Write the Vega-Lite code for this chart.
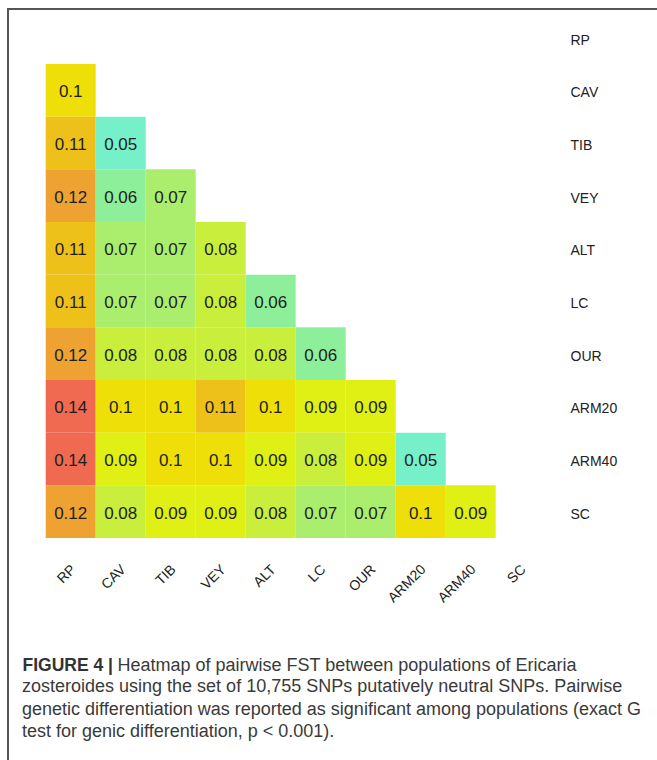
{
  "$schema": "https://vega.github.io/schema/vega-lite/v6.json",
  "description": "Heatmap of pairwise FST between populations of Ericaria zosteroides.",
  "autosize": "none",
  "padding": {"left": 8, "top": 9, "right": -2, "bottom": -2},
  "width": 651,
  "height": 753,
  "background": "white",
  "title": {
    "text": [
      "zosteroides using the set of 10,755 SNPs putatively neutral SNPs. Pairwise",
      "genetic differentiation was reported as significant among populations (exact G",
      "test for genic differentiation, p < 0.001)."
    ],
    "orient": "bottom",
    "anchor": "start",
    "frame": "group",
    "offset": 0,
    "dx": 14,
    "dy": -70,
    "baseline": "alphabetic",
    "font": "Liberation Sans",
    "fontSize": 18,
    "fontWeight": "normal",
    "color": "#3a3a3a",
    "lineHeight": 22.7
  },
  "data": {
    "values": [
      {"row": "CAV", "col": "RP", "fst": 0.1},
      {"row": "TIB", "col": "RP", "fst": 0.11},
      {"row": "TIB", "col": "CAV", "fst": 0.05},
      {"row": "VEY", "col": "RP", "fst": 0.12},
      {"row": "VEY", "col": "CAV", "fst": 0.06},
      {"row": "VEY", "col": "TIB", "fst": 0.07},
      {"row": "ALT", "col": "RP", "fst": 0.11},
      {"row": "ALT", "col": "CAV", "fst": 0.07},
      {"row": "ALT", "col": "TIB", "fst": 0.07},
      {"row": "ALT", "col": "VEY", "fst": 0.08},
      {"row": "LC", "col": "RP", "fst": 0.11},
      {"row": "LC", "col": "CAV", "fst": 0.07},
      {"row": "LC", "col": "TIB", "fst": 0.07},
      {"row": "LC", "col": "VEY", "fst": 0.08},
      {"row": "LC", "col": "ALT", "fst": 0.06},
      {"row": "OUR", "col": "RP", "fst": 0.12},
      {"row": "OUR", "col": "CAV", "fst": 0.08},
      {"row": "OUR", "col": "TIB", "fst": 0.08},
      {"row": "OUR", "col": "VEY", "fst": 0.08},
      {"row": "OUR", "col": "ALT", "fst": 0.08},
      {"row": "OUR", "col": "LC", "fst": 0.06},
      {"row": "ARM20", "col": "RP", "fst": 0.14},
      {"row": "ARM20", "col": "CAV", "fst": 0.1},
      {"row": "ARM20", "col": "TIB", "fst": 0.1},
      {"row": "ARM20", "col": "VEY", "fst": 0.11},
      {"row": "ARM20", "col": "ALT", "fst": 0.1},
      {"row": "ARM20", "col": "LC", "fst": 0.09},
      {"row": "ARM20", "col": "OUR", "fst": 0.09},
      {"row": "ARM40", "col": "RP", "fst": 0.14},
      {"row": "ARM40", "col": "CAV", "fst": 0.09},
      {"row": "ARM40", "col": "TIB", "fst": 0.1},
      {"row": "ARM40", "col": "VEY", "fst": 0.1},
      {"row": "ARM40", "col": "ALT", "fst": 0.09},
      {"row": "ARM40", "col": "LC", "fst": 0.08},
      {"row": "ARM40", "col": "OUR", "fst": 0.09},
      {"row": "ARM40", "col": "ARM20", "fst": 0.05},
      {"row": "SC", "col": "RP", "fst": 0.12},
      {"row": "SC", "col": "CAV", "fst": 0.08},
      {"row": "SC", "col": "TIB", "fst": 0.09},
      {"row": "SC", "col": "VEY", "fst": 0.09},
      {"row": "SC", "col": "ALT", "fst": 0.08},
      {"row": "SC", "col": "LC", "fst": 0.07},
      {"row": "SC", "col": "OUR", "fst": 0.07},
      {"row": "SC", "col": "ARM20", "fst": 0.1},
      {"row": "SC", "col": "ARM40", "fst": 0.09}
    ]
  },
  "encoding": {
    "x": {
      "field": "col",
      "type": "nominal",
      "sort": ["RP", "CAV", "TIB", "VEY", "ALT", "LC", "OUR", "ARM20", "ARM40", "SC"],
      "scale": {
        "domain": ["RP", "CAV", "TIB", "VEY", "ALT", "LC", "OUR", "ARM20", "ARM40", "SC"],
        "range": [37.7, 537.7],
        "paddingInner": 0
      },
      "axis": {
        "orient": "bottom",
        "offset": -195,
        "domain": false,
        "ticks": false,
        "tickSize": 0,
        "grid": false,
        "labelAngle": -45,
        "labelAlign": "right",
        "labelBaseline": "middle",
        "labelPadding": 0,
        "labelOffset": 3,
        "labelFont": "Liberation Sans",
        "labelFontSize": 14,
        "labelColor": "#222222",
        "title": "FIGURE 4 |",
        "titleX": 14,
        "titleY": 103,
        "titleAngle": 0,
        "titleAlign": "left",
        "titleBaseline": "alphabetic",
        "titleFont": "Liberation Sans",
        "titleFontSize": 17.5,
        "titleFontWeight": "bold",
        "titleColor": "#333333"
      }
    },
    "y": {
      "field": "row",
      "type": "nominal",
      "sort": ["RP", "CAV", "TIB", "VEY", "ALT", "LC", "OUR", "ARM20", "ARM40", "SC"],
      "scale": {
        "domain": ["RP", "CAV", "TIB", "VEY", "ALT", "LC", "OUR", "ARM20", "ARM40", "SC"],
        "range": [2.3, 529],
        "paddingInner": 0
      },
      "axis": {
        "orient": "right",
        "offset": -89,
        "domain": false,
        "ticks": false,
        "tickSize": 0,
        "grid": false,
        "labelAlign": "left",
        "labelBaseline": "middle",
        "labelPadding": 0,
        "labelOffset": 3,
        "labelFont": "Liberation Sans",
        "labelFontSize": 14,
        "labelColor": "#222222",
        "title": "Heatmap of pairwise FST between populations of Ericaria",
        "titleX": -453,
        "titleY": 661,
        "titleAngle": 0,
        "titleAlign": "left",
        "titleBaseline": "alphabetic",
        "titleFont": "Liberation Sans",
        "titleFontSize": 18,
        "titleFontWeight": "normal",
        "titleColor": "#3a3a3a"
      }
    }
  },
  "layer": [
    {
      "mark": {"type": "rect"},
      "encoding": {
        "color": {
          "field": "fst",
          "type": "quantitative",
          "scale": {
            "domain": [0.05, 0.06, 0.07, 0.08, 0.09, 0.1, 0.11, 0.12, 0.14],
            "range": ["#76f0c8", "#8eef9a", "#abee6e", "#c9ee3c", "#e0ef14", "#eedf08", "#edc11a", "#eda232", "#ef6a50"]
          },
          "legend": null
        }
      }
    },
    {
      "mark": {"type": "text", "font": "Liberation Sans", "fontSize": 17, "color": "#1e1e1e", "baseline": "middle", "dy": 2},
      "encoding": {
        "text": {"field": "fst", "type": "quantitative"}
      }
    }
  ],
  "config": {
    "view": {"stroke": "#555555", "strokeWidth": 2}
  }
}
